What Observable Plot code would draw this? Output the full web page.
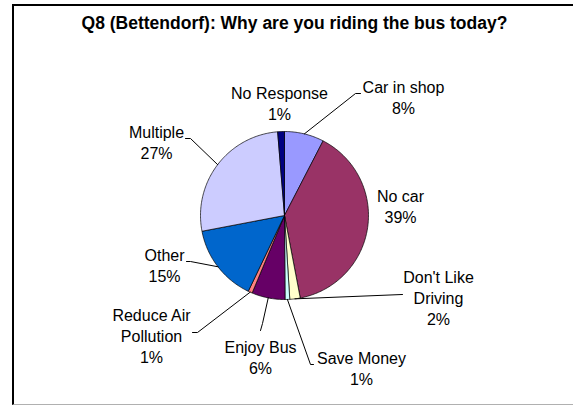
<!DOCTYPE html>
<html><head><meta charset="utf-8">
<script src="https://cdn.jsdelivr.net/npm/d3@7"></script>
<script src="https://cdn.jsdelivr.net/npm/@observablehq/plot@0.6"></script>
<style>
html,body{margin:0;padding:0;background:#fff;overflow:hidden;}
#wrap{position:relative;width:573px;height:406px;overflow:hidden;font-family:"Liberation Sans",Arial,sans-serif;}
#frame{position:absolute;left:12px;top:4px;width:559px;height:398px;border-left:2px solid #000;border-top:2px solid #000;border-bottom:1px solid #b0b0b0;border-right:none;}
#title{position:absolute;left:0;top:13px;width:573px;text-align:center;font-weight:bold;font-size:17.5px;line-height:20px;color:#000;white-space:nowrap;}
#title span{position:relative;left:8px;}
#chart{position:absolute;left:0;top:0;width:573px;height:406px;}
#chart svg{display:block;max-width:none;}
</style>
</head><body>
<div id="wrap"><div id="frame"></div><div id="chart"></div><div id="title"><span>Q8 (Bettendorf): Why are you riding the bus today?</span></div></div>
<script>
// ---- data ----
const categories = ["Car in shop","No car","Don't Like Driving","Save Money","Enjoy Bus","Reduce Air Pollution","Other","Multiple","No Response"];
const values = [7.6, 39.4, 2.0, 0.9, 6.4, 0.8, 14.9, 26.7, 1.3];
const percentLabels = ["8%","39%","2%","1%","6%","1%","15%","27%","1%"];
const labelText = ["Car in shop","No car","Don't Like\nDriving","Save Money","Enjoy Bus","Reduce Air\nPollution","Other","Multiple","No Response"];
const colors = ["#9999FF","#993366","#FFFFCC","#CCFFFF","#660066","#FF8080","#0066CC","#CCCCFF","#000080"];

// ---- layout (pixels) ----
const W = 573, H = 406, cx = 284, cy = 215, R = 84;
// label block centres and leader waypoints, relative to the pie centre
const labelPos = {
  "Car in shop": [119, -119], "No car": [116, -10], "Don't Like Driving": [154, 82],
  "Save Money": [77, 152], "Enjoy Bus": [-24, 141.5], "Reduce Air Pollution": [-133, 120],
  "Other": [-120, 49], "Multiple": [-128, -73.5], "No Response": [-5, -113]
};
const leaderWay = {
  "Car in shop": [[71,-122],[76,-122]],
  "Don't Like Driving": [[118,79]],
  "Save Money": [[26,149],[29,149]],
  "Enjoy Bus": [[-22,108],[-24,115]],
  "Reduce Air Pollution": [[-87,117],[-92,117]],
  "Other": [[-94,46],[-98,46]],
  "Multiple": [[-94,-77],[-99,-77]]
};

const arcs = d3.pie().sort(null).value(d => d)(values);
const slicePts = [];
arcs.forEach((a, i) => {
  const cat = categories[i];
  slicePts.push({cat, x: 0, y: 0});
  const n = Math.max(2, Math.ceil((a.endAngle - a.startAngle) / (Math.PI / 180)));
  for (let k = 0; k <= n; k++) {
    const t = a.startAngle + (a.endAngle - a.startAngle) * k / n;
    slicePts.push({cat, x: R * Math.sin(t), y: -R * Math.cos(t)});
  }
  slicePts.push({cat, x: 0, y: 0});
});

const leaderPts = [];
arcs.forEach((a, i) => {
  const cat = categories[i];
  const way = leaderWay[cat];
  if (!way) return;
  const m = (a.startAngle + a.endAngle) / 2;
  leaderPts.push({cat, x: R * Math.sin(m), y: -R * Math.cos(m)});
  way.forEach(p => leaderPts.push({cat, x: p[0], y: p[1]}));
});

const labels = categories.map((c, i) => ({
  cat: c, x: labelPos[c][0], y: labelPos[c][1], text: labelText[i] + "\n" + percentLabels[i]
}));

const chart = Plot.plot({
  width: W, height: H, margin: 0,
  style: {background: "transparent", fontFamily: "'Liberation Sans', Arial, sans-serif"},
  x: {domain: [-cx, W - cx], range: [0, W], axis: null},
  y: {domain: [-cy, H - cy], range: [0, H], axis: null},
  color: {domain: categories, range: colors},
  marks: [
    Plot.line(slicePts, {x: "x", y: "y", z: "cat", fill: "cat", stroke: "#000", strokeWidth: 0.7, strokeLinejoin: "round"}),
    Plot.line(leaderPts, {x: "x", y: "y", z: "cat", stroke: "#000", strokeWidth: 1}),
    Plot.text(labels, {x: "x", y: "y", text: "text", fontSize: 16, lineHeight: 1.3, fill: "#000", textAnchor: "middle"})
  ]
});
document.getElementById("chart").appendChild(chart);
</script>
</body></html>
